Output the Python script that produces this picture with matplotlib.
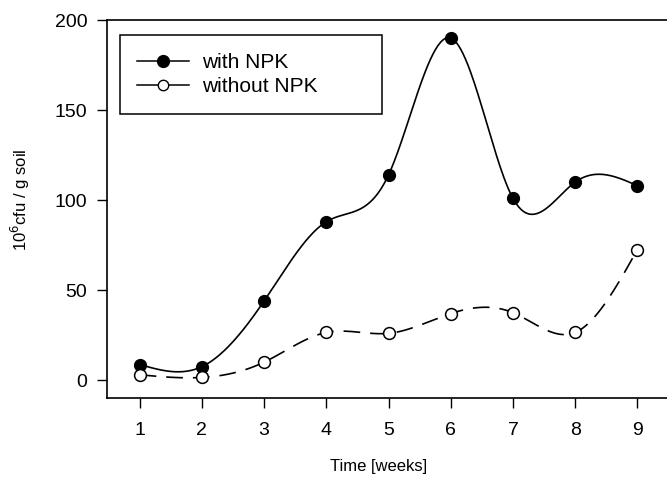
import numpy as np
import matplotlib
matplotlib.use("Agg")
import matplotlib.pyplot as plt
from matplotlib.lines import Line2D

plt.rcParams['font.family'] = ['Liberation Sans', 'DejaVu Sans']

# data
weeks = [1, 2, 3, 4, 5, 6, 7, 8, 9]
with_npk = [8.7, 7.5, 44, 88, 114, 190, 101, 110, 108]
without_npk = [3, 1.5, 10, 26.5, 26, 37, 37.5, 26.5, 72.5]


def natural_spline(x, y, n=400):
    """Natural cubic spline through (x, y), evaluated on a fine grid."""
    x = np.asarray(x, float)
    y = np.asarray(y, float)
    k = len(x)
    h = np.diff(x)
    A = np.zeros((k, k))
    b = np.zeros(k)
    A[0, 0] = A[-1, -1] = 1
    for i in range(1, k - 1):
        A[i, i - 1] = h[i - 1]
        A[i, i] = 2 * (h[i - 1] + h[i])
        A[i, i + 1] = h[i]
        b[i] = 3 * ((y[i + 1] - y[i]) / h[i] - (y[i] - y[i - 1]) / h[i - 1])
    c = np.linalg.solve(A, b)
    xs = np.linspace(x[0], x[-1], n)
    idx = np.clip(np.searchsorted(x, xs) - 1, 0, k - 2)
    dx = xs - x[idx]
    bb = (y[idx + 1] - y[idx]) / h[idx] - h[idx] * (2 * c[idx] + c[idx + 1]) / 3
    d = (c[idx + 1] - c[idx]) / (3 * h[idx])
    ys = y[idx] + bb * dx + c[idx] * dx ** 2 + d * dx ** 3
    return xs, ys


fig = plt.figure(figsize=(6.67, 4.78), dpi=100)
ax = fig.add_axes([0.160, 0.167, 0.845, 0.791])

xs, ys = natural_spline(weeks, with_npk)
ax.plot(xs, ys, color='black', lw=1.2)
ax.plot(weeks, with_npk, 'o', color='black', ms=8.5)

xs, ys = natural_spline(weeks, without_npk)
ax.plot(xs, ys, color='black', lw=1.2, dashes=(10, 6))
ax.plot(weeks, without_npk, 'o', mfc='white', mec='black', mew=1.1, ms=8.5)

ax.set_xlim(0.47, 9.53)
ax.set_ylim(-10, 200)
ax.set_xticks(weeks)
ax.set_yticks([0, 50, 100, 150, 200])
ax.tick_params(direction='out', length=7, width=1, labelsize=14)
ax.tick_params(axis='x', pad=10)
ax.tick_params(axis='y', pad=7)
for s in ax.spines.values():
    s.set_linewidth(1.2)

ax.set_xlabel('Time [weeks]', fontsize=12)
ax.set_ylabel('10$^6$cfu / g soil', fontsize=12)
ax.xaxis.set_label_coords(0.482, -0.162)
ax.yaxis.set_label_coords(-0.132, 0.524)

handles = [
    Line2D([], [], color='black', lw=1.1, marker='o', ms=8.5),
    Line2D([], [], color='black', lw=1.1, marker='o', ms=7.5, mfc='white', mew=1.0),
]
leg = ax.legend(handles, ['with NPK', 'without NPK'], loc='upper left',
                bbox_to_anchor=(0.023, 0.769, 0.465, 0.191), mode='expand',
                borderaxespad=0, fontsize=15, fancybox=False,
                edgecolor='black', framealpha=1, handlelength=2.5,
                handletextpad=0.6, borderpad=0.85, labelspacing=0.25)
leg.get_frame().set_linewidth(1.1)

fig.savefig('out.png', dpi=100)
